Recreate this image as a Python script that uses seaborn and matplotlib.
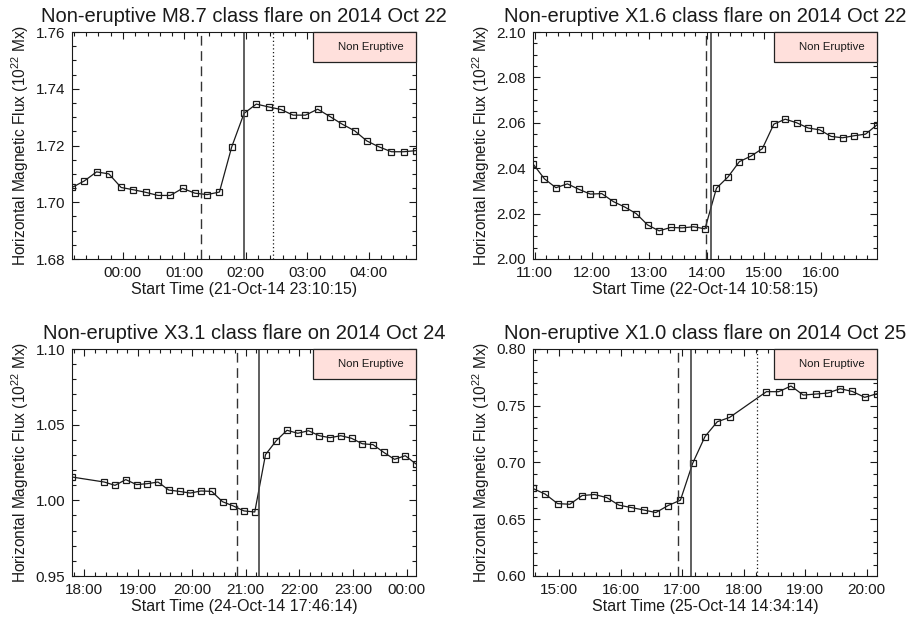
import numpy as np
import pandas as pd
import matplotlib
matplotlib.use("Agg")
import matplotlib.pyplot as plt
import matplotlib.dates as mdates
from matplotlib.ticker import AutoMinorLocator, MultipleLocator, FormatStrFormatter
from matplotlib.patches import Rectangle
import seaborn as sns

# ---------------- data ----------------
titles = [
    "Non-eruptive M8.7 class flare on 2014 Oct 22",
    "Non-eruptive X1.6 class flare on 2014 Oct 22",
    "Non-eruptive X3.1 class flare on 2014 Oct 24",
    "Non-eruptive X1.0 class flare on 2014 Oct 25",
]
start_times = ["2014-10-21 23:10:15", "2014-10-22 10:58:15",
               "2014-10-24 17:46:14", "2014-10-25 14:34:14"]
xlabels = ["Start Time (21-Oct-14 23:10:15)", "Start Time (22-Oct-14 10:58:15)",
           "Start Time (24-Oct-14 17:46:14)", "Start Time (25-Oct-14 14:34:14)"]
cadence_min = 12

p1_slots = list(range(29))
p1_flux = [1.7052, 1.7075, 1.7107, 1.7100, 1.7052, 1.7044, 1.7035, 1.7024, 1.7024,
           1.7049, 1.7032, 1.7027, 1.7036, 1.7195, 1.7313, 1.7346, 1.7336, 1.7327,
           1.7307, 1.7307, 1.7328, 1.7302, 1.7275, 1.7252, 1.7216, 1.7195, 1.7178,
           1.7178, 1.7182]

p2_slots = list(range(31))
p2_flux = [2.0419, 2.0353, 2.0314, 2.0331, 2.0307, 2.0286, 2.0288, 2.0253, 2.0229,
           2.0200, 2.0150, 2.0124, 2.0139, 2.0137, 2.0142, 2.0133, 2.0312, 2.0361,
           2.0429, 2.0453, 2.0486, 2.0594, 2.0616, 2.0600, 2.0577, 2.0569, 2.0540,
           2.0534, 2.0543, 2.0550, 2.0591]

p3_slots = [0] + list(range(3, 33))
p3_flux = [1.0154, 1.0121, 1.0099, 1.0137, 1.0104, 1.0110, 1.0121, 1.0068, 1.0059,
           1.0048, 1.0062, 1.0059, 0.9991, 0.9963, 0.9930, 0.9923, 1.0302, 1.0394,
           1.0463, 1.0443, 1.0460, 1.0427, 1.0414, 1.0427, 1.0410, 1.0374, 1.0368,
           1.0317, 1.0271, 1.0295, 1.0240]

p4_slots = list(range(17)) + list(range(19, 29))
p4_flux = [0.6771, 0.6721, 0.6638, 0.6632, 0.6709, 0.6718, 0.6691, 0.6624, 0.6603,
           0.6582, 0.6559, 0.6621, 0.6668, 0.6994, 0.7229, 0.7359, 0.7397,
           0.7624, 0.7624, 0.7674, 0.7594, 0.7603, 0.7612, 0.7650, 0.7626, 0.7574,
           0.7606]

# flare start (dashed), peak (solid), end (dotted)
flare_start = ["2014-10-22 01:16", "2014-10-22 13:59", "2014-10-24 20:50", "2014-10-25 16:56"]
flare_peak = ["2014-10-22 01:58", "2014-10-22 14:05", "2014-10-24 21:15", "2014-10-25 17:09"]
flare_end = ["2014-10-22 02:27", None, None, "2014-10-25 18:13"]

ylims = [(1.68, 1.76), (2.00, 2.10), (0.95, 1.10), (0.60, 0.80)]
ymajor = [0.02, 0.02, 0.05, 0.05]
yminor_n = [4, 4, 5, 5]

slots = [p1_slots, p2_slots, p3_slots, p4_slots]
fluxes = [p1_flux, p2_flux, p3_flux, p4_flux]

# ---------------- style ----------------
sns.set_theme(style="ticks")
plt.rcParams["font.family"] = ["Liberation Sans", "DejaVu Sans"]
plt.rcParams["mathtext.fontset"] = "custom"
plt.rcParams["mathtext.rm"] = "Liberation Sans"
plt.rcParams["mathtext.default"] = "regular"

fig = plt.figure(figsize=(9.10, 6.21), dpi=100)
W, H = 910, 621
positions = [(72, 32), (533, 32), (72, 349), (533, 349)]
aw, ah = 344, 227

for i in range(4):
    left, top = positions[i]
    ax = fig.add_axes([left / W, 1 - (top + ah) / H, aw / W, ah / H])
    t0 = pd.Timestamp(start_times[i])
    times = [t0 + pd.Timedelta(minutes=cadence_min * s) for s in slots[i]]
    df = pd.DataFrame({"time": times, "flux": fluxes[i]})
    sns.lineplot(data=df, x="time", y="flux", ax=ax, color="k", lw=0.9,
                 marker="s", markersize=4.8, markerfacecolor="none",
                 markeredgecolor="k", markeredgewidth=0.9,
                 sort=False, estimator=None)

    ax.axvline(pd.Timestamp(flare_start[i]), color="#333333", lw=1.0,
               ls=(0, (7, 4)))
    ax.axvline(pd.Timestamp(flare_peak[i]), color="#444444", lw=1.2, ls="-")
    if flare_end[i] is not None:
        ax.axvline(pd.Timestamp(flare_end[i]), color="k", lw=0.9, ls=(0, (1, 2)))

    ax.set_xlim(times[0], times[-1])
    ax.set_ylim(*ylims[i])
    ax.yaxis.set_major_locator(MultipleLocator(ymajor[i]))
    ax.yaxis.set_minor_locator(AutoMinorLocator(yminor_n[i]))
    ax.yaxis.set_major_formatter(FormatStrFormatter("%.2f"))
    ax.xaxis.set_major_locator(mdates.HourLocator())
    ax.xaxis.set_minor_locator(mdates.MinuteLocator(byminute=[12, 24, 36, 48]))
    ax.xaxis.set_major_formatter(mdates.DateFormatter("%H:%M"))

    ax.tick_params(which="both", direction="in", top=True, right=True,
                   color="k", width=0.8, labelsize=11, labelcolor="k")
    ax.tick_params(which="major", length=5, pad=5)
    ax.tick_params(which="minor", length=3)
    for sp in ax.spines.values():
        sp.set_visible(True)
        sp.set_color("k")
        sp.set_linewidth(0.8)

    ax.set_title(titles[i], fontsize=14.5, pad=7, color="k")
    ax.set_xlabel(xlabels[i], fontsize=11.5, color="k")
    ax.set_ylabel(r"Horizontal Magnetic Flux (10$^{22}$ Mx)", fontsize=11.2, color="k")
    ax.xaxis.set_label_coords(0.5, -0.10)
    ax.yaxis.set_label_coords(-0.119, 0.5)

    # legend box
    ax.add_patch(Rectangle((0.70, 0.866), 0.30, 0.134, transform=ax.transAxes,
                           facecolor="#ffe0dc", edgecolor="#222222", lw=0.9,
                           zorder=5, clip_on=False))
    ax.text(0.965, 0.933, "Non Eruptive", transform=ax.transAxes, ha="right",
            va="center", fontsize=8.2, color="k", zorder=6)

fig.savefig("out.png", dpi=100)
